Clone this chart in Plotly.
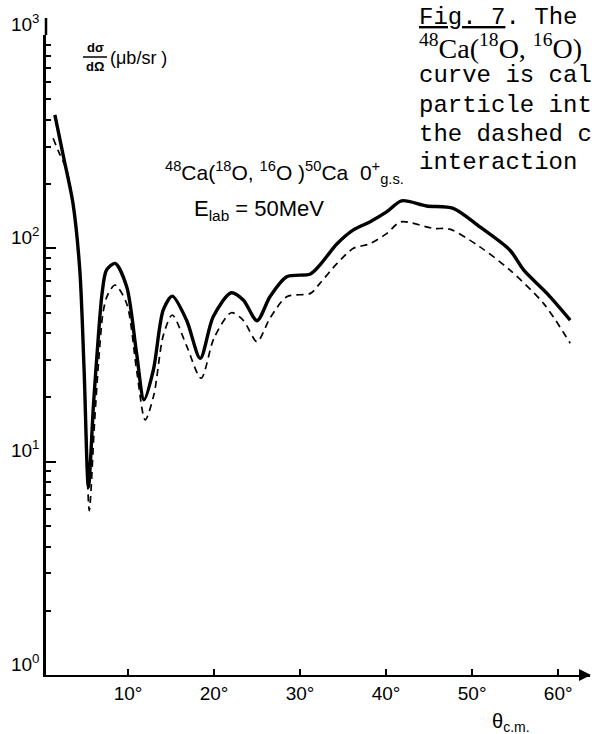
import plotly.graph_objects as go

# ---------------- data ----------------
theta_solid = [1.5, 2.5, 3.6, 4.4, 4.9, 5.4, 6.0, 6.55, 7.0, 7.5, 8.5, 9.85, 11.0, 11.86,
               12.95, 14.1, 15.15, 16.8, 18.4, 19.9, 22.0, 23.4, 25.0, 26.5, 28.45, 31.2,
               32.3, 34.3, 36.2, 38.1, 40.1, 41.8, 44.7, 47.8, 50.9, 54.4, 56.0, 58.7, 61.4]
sigma_solid = [422, 269, 163, 79, 26.9, 7.6, 18.8, 38.5, 62, 79, 85, 66, 32.2, 19.5,
               26.9, 51.4, 59.7, 46.1, 30.5, 47.8, 61.9, 57.3, 45.8, 59.3, 73.6, 75.8,
               83.5, 105, 122, 133, 148.5, 167, 158, 154, 126, 98, 79, 61.5, 46.1]

theta_dashed = [1.3, 2.0, 2.87, 3.6, 4.4, 4.95, 5.5, 6.1, 6.6, 7.1, 7.6, 8.5, 9.85, 11.0,
                12.0, 13.0, 14.1, 15.15, 16.8, 18.5, 20.0, 22.0, 23.4, 25.0, 26.5, 28.45,
                31.2, 32.3, 34.3, 36.2, 38.1, 40.1, 41.7, 45.5, 47.4, 50.9, 54.4, 58.3, 61.4]
sigma_dashed = [328, 280, 233, 163, 79, 25, 5.9, 15, 30, 50, 60, 67.3, 55, 26.9,
                15.7, 20.5, 39, 48.7, 35, 24.6, 38, 49.9, 46, 36.5, 47, 59.3,
                61.5, 68.5, 85, 100, 105, 117.5, 133, 124, 123, 101.6, 79, 55.2, 35.9]

x_tickvals = [10, 20, 30, 40, 50, 60]
x_ticktext = ["10°", "20°", "30°", "40°", "50°", "60°"]
y_tickvals = [1, 10, 100, 1000]
y_ticktext = ["10<sup>0</sup>", "10<sup>1</sup>", "10<sup>2</sup>", "10<sup>3</sup>"]

caption_lines = ["<u>Fig. 7</u>. The",
                 "<sup>48</sup>Ca(<sup>18</sup>O, <sup>16</sup>O)",
                 "curve is cal",
                 "particle int",
                 "the dashed c",
                 "interaction"]

# ---------------- layout helpers (pixel -> paper) ----------------
W, H = 592, 734
L, R, T, B = 46, 590, 35, 675


def PX(x):
    return (x - L) / (R - L)


def PY(y):
    return (B - y) / (B - T)


LETTER = "Liberation Sans, Arial, sans-serif"
TICKC = "black"

fig = go.Figure()
fig.add_trace(go.Scatter(x=theta_solid, y=sigma_solid, mode="lines",
                         line=dict(color="black", width=3.4, shape="spline", smoothing=0.8),
                         showlegend=False, hoverinfo="skip"))
fig.add_trace(go.Scatter(x=theta_dashed, y=sigma_dashed, mode="lines",
                         line=dict(color="black", width=1.7, dash="7px,5px",
                                   shape="spline", smoothing=0.8),
                         showlegend=False, hoverinfo="skip"))

fig.update_layout(
    width=W, height=H,
    margin=dict(l=L, r=W - R, t=T, b=H - B),
    paper_bgcolor="white", plot_bgcolor="white",
    font=dict(family=LETTER, color="black", size=19),
    xaxis=dict(range=[0.47, 63.7], tickmode="array", tickvals=x_tickvals, ticktext=x_ticktext,
               ticks="inside", ticklen=6, tickwidth=2, tickcolor=TICKC,
               showline=True, linewidth=2, linecolor="black", layer="above traces",
               showgrid=False, zeroline=False,
               tickfont=dict(family=LETTER, size=19)),
    yaxis=dict(type="log", range=[0, 3], tickmode="array", tickvals=y_tickvals, ticktext=y_ticktext,
               ticks="inside", ticklen=10, tickwidth=2, tickcolor=TICKC,
               minor=dict(dtick="D1", ticks="inside", ticklen=5,
                          tickwidth=1.5, tickcolor=TICKC, showgrid=False),
               showline=True, linewidth=2.5, linecolor="black", layer="above traces",
               showgrid=False, zeroline=False, ticklabelshift=-11,
               tickfont=dict(family=LETTER, size=19)),
)

shapes = [
    # axis extension above 10^3
    dict(type="line", xref="paper", yref="paper", x0=0, x1=0, y0=1, y1=PY(18),
         line=dict(color="black", width=2.5)),
    # fraction bar of d sigma / d Omega
    dict(type="line", xref="paper", yref="paper", x0=PX(83), x1=PX(107),
         y0=PY(57), y1=PY(57), line=dict(color="black", width=1.5)),
]
fig.update_layout(shapes=shapes)

ann = []
# arrow at the end of the x axis
ann.append(dict(xref="paper", yref="paper", x=PX(591), y=0, ax=-12, ay=0, text="",
                showarrow=True, arrowhead=2, arrowsize=1.2, arrowwidth=2, arrowcolor="black"))
# y-axis label
ann.append(dict(xref="paper", yref="paper", x=PX(95), y=PY(48), text="<b>dσ</b>",
                xanchor="center", yanchor="middle",
                showarrow=False, font=dict(family=LETTER, size=13)))
ann.append(dict(xref="paper", yref="paper", x=PX(95), y=PY(66), text="<b>dΩ</b>",
                xanchor="center", yanchor="middle",
                showarrow=False, font=dict(family=LETTER, size=13)))
ann.append(dict(xref="paper", yref="paper", x=PX(108), y=PY(58), text="(μb/sr )",
                xanchor="left", yanchor="middle", showarrow=False,
                font=dict(family=LETTER, size=18)))
# x-axis label
ann.append(dict(xref="paper", yref="paper", x=PX(490), y=PY(722),
                text="θ<sub>c.m.</sub>", xanchor="left", yanchor="middle", showarrow=False,
                font=dict(family=LETTER, size=20)))
# reaction label
ann.append(dict(xref="paper", yref="paper", x=PX(163), y=PY(172),
                text="<sup>48</sup>Ca(<sup>18</sup>O, <sup>16</sup>O )<sup>50</sup>Ca  0<sup>+</sup><sub>g.s.</sub>",
                xanchor="left", yanchor="middle", showarrow=False,
                font=dict(family=LETTER, size=21)))
ann.append(dict(xref="paper", yref="paper", x=PX(192), y=PY(210),
                text="E<sub>lab</sub> = 50MeV", xanchor="left", yanchor="middle", showarrow=False,
                font=dict(family=LETTER, size=22)))
# caption (cut off at the right edge in the original scan)
cap_y = [17, 46, 75, 105, 134, 163]
for i, (txt, yy) in enumerate(zip(caption_lines, cap_y)):
    fam = "Liberation Serif, serif" if i == 1 else "Liberation Mono, Courier New, monospace"
    ann.append(dict(xref="paper", yref="paper", x=PX(417), y=PY(yy), text=txt,
                    xanchor="left", yanchor="middle", showarrow=False,
                    font=dict(family=fam, size=24 if i != 1 else 28)))
fig.update_layout(annotations=ann)

fig.write_html("out.html")
